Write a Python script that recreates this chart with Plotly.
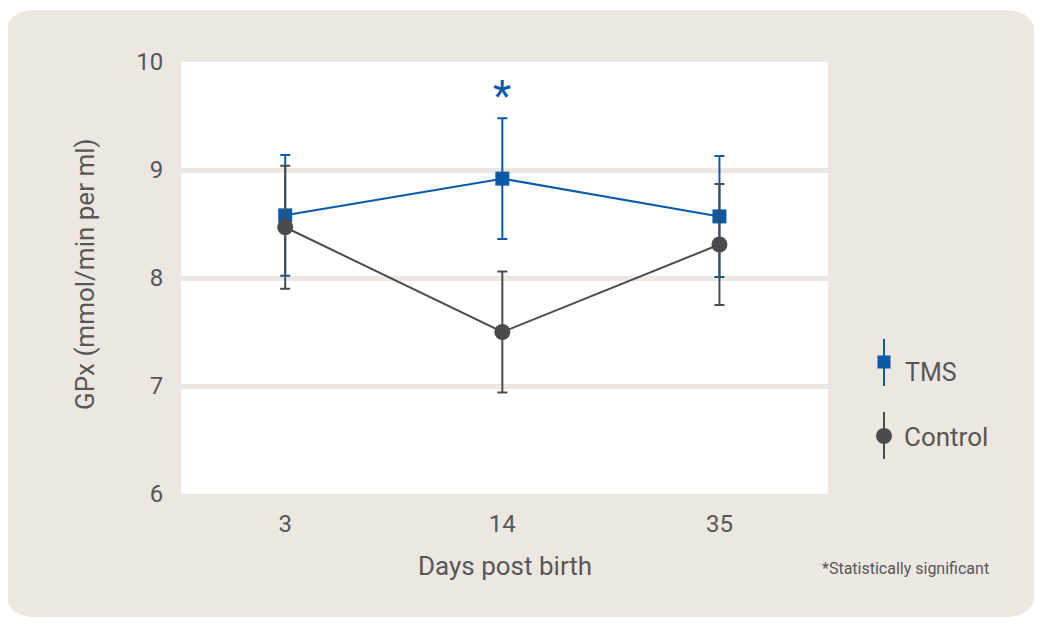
import plotly.graph_objects as go

days = ["3", "14", "35"]
tms_mean = [8.58, 8.92, 8.57]
tms_err = [0.56, 0.56, 0.56]
ctrl_mean = [8.47, 7.50, 8.31]
ctrl_err = [0.57, 0.56, 0.56]
y_ticks = [6, 7, 8, 9, 10]
significant_day = "14"

BLUE = "#0a5aa8"
GRAY = "#4b4b4d"
BEIGE = "#ede7e1"
TXT = "#575757"
FONT = "Roboto"

OFF = 8  # page body margin
W, H = 1042 - OFF, 626 - OFF
# plot area in reference (window) pixels
PX0, PX1, PY0, PY1 = 181, 828, 62, 494
L, T = PX0 - OFF, PY0 - OFF
R, B = W - (PX1 - OFF), H - (PY1 - OFF)
PW, PH = PX1 - PX0, PY1 - PY0

def px(x):
    return (x - PX0) / PW

def py(y):
    return (PY1 - y) / PH

xpos = list(range(len(days)))

fig = go.Figure()
fig.add_trace(go.Scatter(
    x=xpos, y=tms_mean, mode="lines+markers", name="TMS",
    line=dict(color=BLUE, width=2),
    marker=dict(symbol="square", size=14, color=BLUE),
    error_y=dict(type="data", array=tms_err, color=BLUE, thickness=2, width=5),
    showlegend=False,
))
fig.add_trace(go.Scatter(
    x=xpos, y=ctrl_mean, mode="lines+markers", name="Control",
    line=dict(color=GRAY, width=2),
    marker=dict(symbol="circle", size=16, color=GRAY),
    error_y=dict(type="data", array=ctrl_err, color=GRAY, thickness=2, width=5),
    showlegend=False,
))

shapes = []
# rounded beige panel
x0, x1, y0, y1, r = px(5), px(1036), py(617), py(10), 30
rx, ry = r / PW, r / PH
path = (f"M {x0+rx},{y0} L {x1-rx},{y0} Q {x1},{y0} {x1},{y0+ry} "
        f"L {x1},{y1-ry} Q {x1},{y1} {x1-rx},{y1} L {x0+rx},{y1} "
        f"Q {x0},{y1} {x0},{y1-ry} L {x0},{y0+ry} Q {x0},{y0} {x0+rx},{y0} Z")
shapes.append(dict(type="path", path=path, xref="paper", yref="paper",
                   fillcolor=BEIGE, line=dict(width=0), layer="below"))
shapes.append(dict(type="rect", xref="paper", yref="paper", x0=0, x1=1, y0=0, y1=1,
                   fillcolor="white", line=dict(width=0), layer="below"))

# legend glyphs
lx = px(884)
shapes.append(dict(type="line", xref="paper", yref="paper", x0=lx, x1=lx,
                   y0=py(386), y1=py(339), line=dict(color=BLUE, width=2)))
s = 6.5
shapes.append(dict(type="rect", xref="paper", yref="paper",
                   x0=px(884 - s), x1=px(884 + s), y0=py(362 + s), y1=py(362 - s),
                   fillcolor=BLUE, line=dict(width=0)))
shapes.append(dict(type="line", xref="paper", yref="paper", x0=lx, x1=lx,
                   y0=py(459), y1=py(412), line=dict(color=GRAY, width=2)))
c = 8
shapes.append(dict(type="circle", xref="paper", yref="paper",
                   x0=px(884 - c), x1=px(884 + c), y0=py(436 + c), y1=py(436 - c),
                   fillcolor=GRAY, line=dict(width=0)))

annotations = [
    dict(x=xpos[days.index(significant_day)], y=9.69, xref="x", yref="y", text="*",
         showarrow=False, font=dict(family=FONT, size=42, color=BLUE),
         xanchor="center", yanchor="middle"),
    dict(x=px(903), y=py(372), xref="paper", yref="paper", text="TMS",
         showarrow=False, font=dict(family=FONT, size=25, color=TXT),
         xanchor="left", yanchor="middle"),
    dict(x=px(902), y=py(437), xref="paper", yref="paper", text="Control",
         showarrow=False, font=dict(family=FONT, size=26, color=TXT),
         xanchor="left", yanchor="middle"),
    dict(x=px(991), y=py(568), xref="paper", yref="paper", text="*Statistically significant",
         showarrow=False, font=dict(family=FONT, size=16, color=TXT),
         xanchor="right", yanchor="middle"),
    dict(x=px(505), y=py(566), xref="paper", yref="paper", text="Days post birth",
         showarrow=False, font=dict(family=FONT, size=26, color=TXT),
         xanchor="center", yanchor="middle"),
    dict(x=px(85), y=py(274), xref="paper", yref="paper", text="GPx (mmol/min per ml)",
         showarrow=False, font=dict(family=FONT, size=26, color=TXT), textangle=-90,
         xanchor="center", yanchor="middle"),
]

fig.update_layout(
    width=W, height=H,
    margin=dict(l=L, r=R, t=T, b=B),
    paper_bgcolor="white",
    plot_bgcolor="rgba(0,0,0,0)",
    shapes=shapes,
    annotations=annotations,
    showlegend=False,
    font=dict(family=FONT, color=TXT),
    xaxis=dict(
        range=[-0.48, 2.50], tickmode="array", tickvals=xpos, ticktext=days,
        showgrid=False, zeroline=False, showline=False,
        ticks="outside", ticklen=8, tickcolor="rgba(0,0,0,0)",
        tickfont=dict(size=24, color=TXT),
        fixedrange=True,
    ),
    yaxis=dict(
        range=[6, 10], tickmode="array", tickvals=y_ticks,
        showgrid=True, gridcolor=BEIGE, gridwidth=5, zeroline=False, showline=False,
        ticks="outside", ticklen=12, tickcolor="rgba(0,0,0,0)",
        tickfont=dict(size=24, color=TXT),
        fixedrange=True,
    ),
)

fig.write_html("out.html", config={"displayModeBar": False})
